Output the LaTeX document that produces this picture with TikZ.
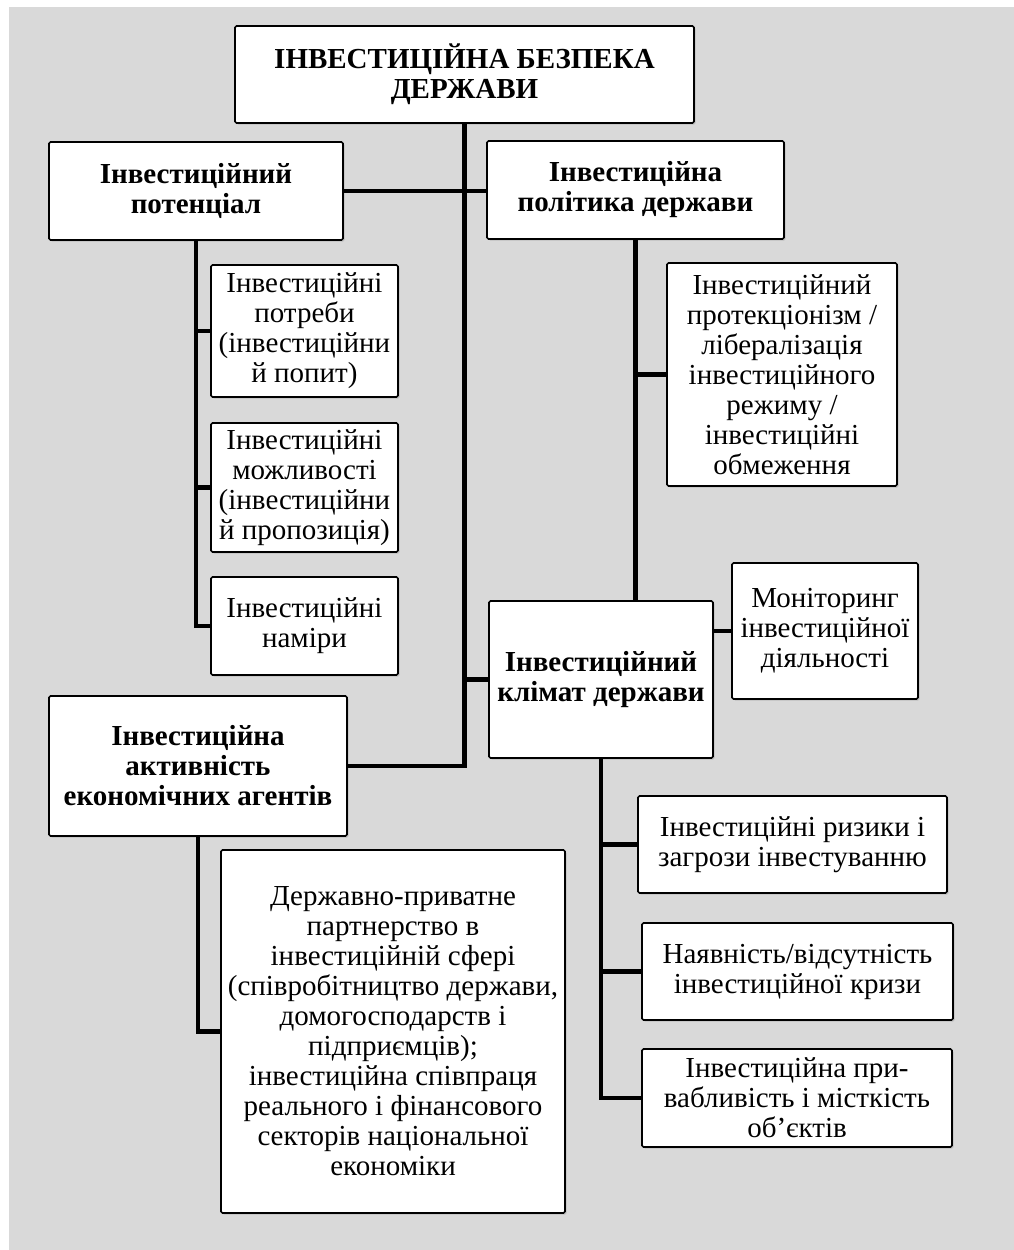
\documentclass[tikz,border=0pt]{standalone}
\usepackage{fontspec}
\setmainfont{Liberation Serif}
\usetikzlibrary{positioning, shadows, calc}
\definecolor{bggray}{HTML}{D9D9D9}

\begin{document}
\begin{tikzpicture}[x=1pt, y=-1pt,
    every node/.style={font=\fontsize{29}{30}\selectfont},
    box/.style={draw=black, fill=white, line width=1.6pt, rounded corners=1.5pt, align=center, inner sep=0pt,
        drop shadow={shadow xshift=1.5pt, shadow yshift=-1.5pt, opacity=0.3}},
    mainbox/.style={box, font=\fontsize{29}{30}\selectfont\bfseries},
    link/.style={line width=4.5pt}]
    % Background
    \useasboundingbox (0,0) rectangle (1014,1250);
    \fill[white] (0,0) rectangle (1014,1250);
    \fill[bggray] (9,7) rectangle (1014,1250);

    % Main boxes
    \node (top) [mainbox, minimum width=459, minimum height=97] at (464.5,74.5) {ІНВЕСТИЦІЙНА БЕЗПЕКА\\ДЕРЖАВИ};
    \node (potential) [mainbox, minimum width=294, minimum height=98] at (196,191) {Інвестиційний\\потенціал};
    \node (policy) [mainbox, minimum width=297, minimum height=98] at (635.5,190) {Інвестиційна\\політика держави};
    \node (climate) [mainbox, minimum width=224, minimum height=157] at (601,679.5) {Інвестиційний\\клімат держави};
    \node (activity) [mainbox, minimum width=298, minimum height=140] at (198,766) {Інвестиційна\\активність\\економічних агентів};

    % Sub boxes
    \node (needs) [box, minimum width=187, minimum height=132] at (304.5,331) {Інвестиційні\\потреби\\(інвестиційни\\й попит)};
    \node (opps) [box, minimum width=187, minimum height=129] at (304.5,487.5) {Інвестиційні\\можливості\\(інвестиційни\\й пропозиція)};
    \node (intent) [box, minimum width=187, minimum height=98] at (304.5,626) {Інвестиційні\\наміри};
    \node (protect) [box, minimum width=230, minimum height=223] at (782,374.5) {Інвестиційний\\протекціонізм /\\лібералізація\\інвестиційного\\режиму /\\інвестиційні\\обмеження};
    \node (monitor) [box, minimum width=186, minimum height=136] at (825,631) {Моніторинг\\інвестиційної\\діяльності};
    \node (ppp) [box, minimum width=344, minimum height=363] at (393,1031.5) {Державно-приватне\\партнерство в\\інвестиційній сфері\\(співробітництво держави,\\домогосподарств і\\підприємців);\\інвестиційна співпраця\\реального і фінансового\\секторів національної\\економіки};
    \node (risks) [box, minimum width=309, minimum height=97] at (792.5,844.5) {Інвестиційні ризики і\\загрози інвестуванню};
    \node (crisis) [box, minimum width=311, minimum height=97] at (797.5,971.5) {Наявність/відсутність\\інвестиційної кризи};
    \node (attract) [box, minimum width=310, minimum height=98] at (797,1098) {Інвестиційна при-\\вабливість і місткість\\об’єктів};

    % Trunk
    \draw [link] (top.south) |- (activity.east);
    \draw [link] (potential.east) -- (potential.east -| policy.west);
    \draw [link] (climate.west) -- (climate.west -| top.south);

    % Potential branch
    \draw [link] (potential.south) |- (intent.west);
    \foreach \n in {needs, opps}
        \draw [link] (\n.west) -- (\n.west -| potential.south);

    % Policy branch
    \draw [link] (policy.south) -- (policy.south |- climate.north);
    \draw [link] (protect.west) -- (protect.west -| policy.south);

    % Climate branch
    \draw [link] (monitor.west) -- (monitor.west -| climate.east);
    \draw [link] (climate.south) |- (attract.west);
    \foreach \n in {risks, crisis}
        \draw [link] (\n.west) -- (\n.west -| climate.south);

    % Activity branch
    \draw [link] (activity.south) |- (ppp.west);
\end{tikzpicture}
\end{document}
